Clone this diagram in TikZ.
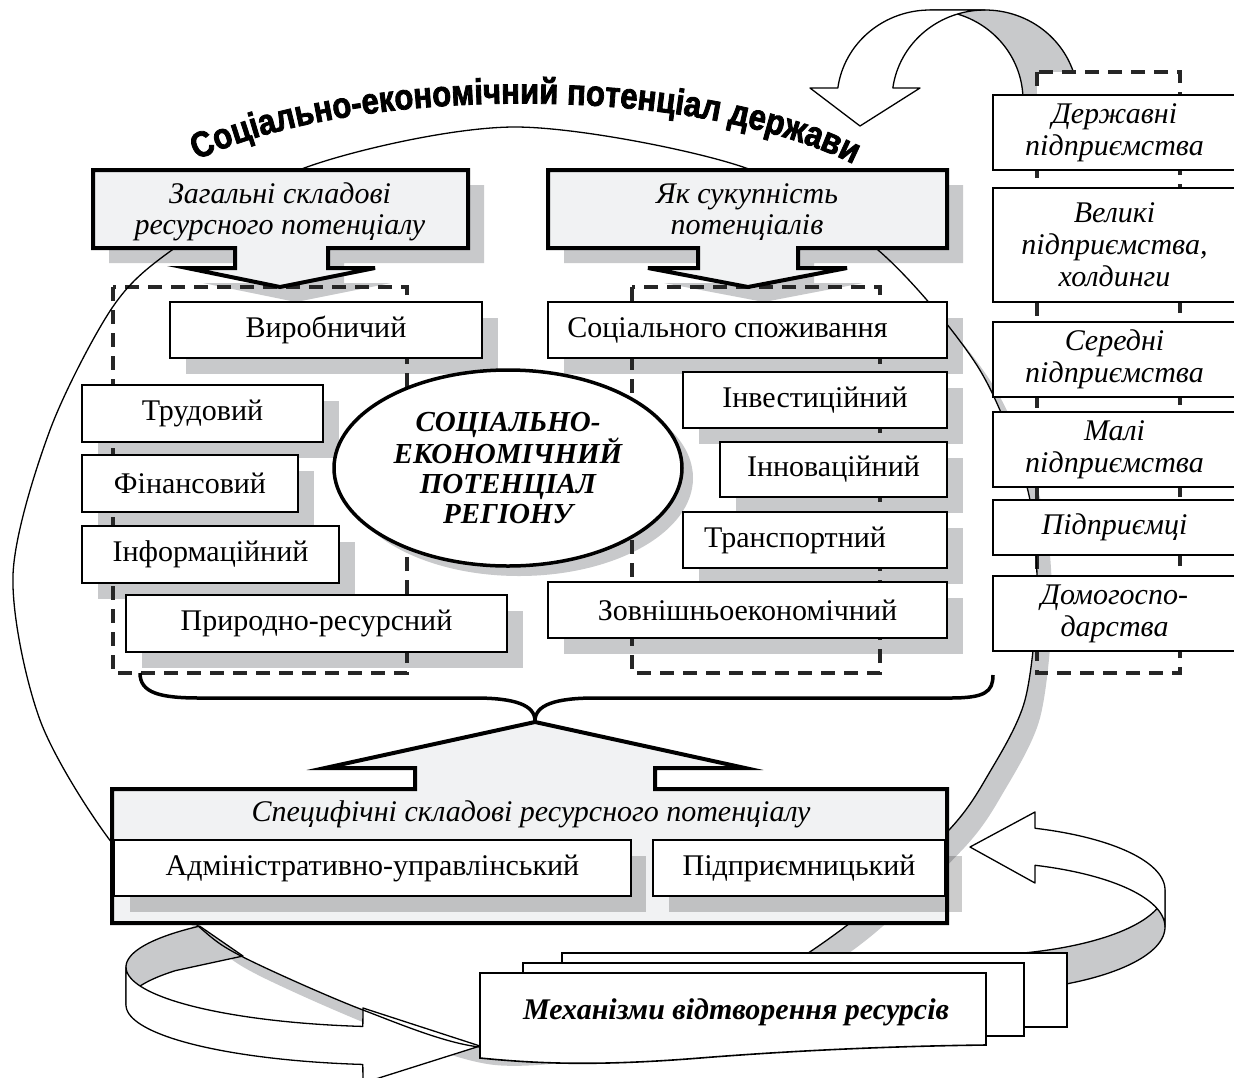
\documentclass[tikz,border=0pt]{standalone}
\usepackage{fontspec}
\setmainfont{Liberation Serif}
\newfontfamily\sansbold[FakeStretch=0.86,FakeBold=2.2]{Liberation Sans}
\usetikzlibrary{shapes.geometric,decorations.text}
\pgfdeclarelayer{l0}
\pgfdeclarelayer{l1}
\pgfdeclarelayer{l2}
\pgfdeclarelayer{l3}
\pgfsetlayers{l0,l1,l2,l3,main}
\definecolor{hdrfill}{RGB}{241,242,243}
\definecolor{shgray}{RGB}{200,201,203}
\newcommand\mkbox[7]{\node[#1, minimum width={#5-#3}, minimum height={#6-#4}] (#2) at ({(#3+#5)/2},{(#4+#6)/2}) {#7};}
\newcommand\mkshadow[1]{\fill[shgray] ([shift={(16,16)}]#1.north west) rectangle ([shift={(16,16)}]#1.south east);}
\begin{document}
\begin{tikzpicture}[x=1pt,y=-1pt,
  every node/.style={inner sep=0pt, outer sep=0pt},
  box/.style={draw=black, line width=1.7pt, fill=white, font=\fontsize{30}{32}\selectfont},
  rbox/.style={draw=black, line width=1.7pt, fill=white, font=\fontsize{30}{32}\selectfont\itshape, align=center},
  hdr/.style={draw=black, line width=4pt, fill=hdrfill, line join=miter},
  htext/.style={font=\fontsize{30}{31}\selectfont\itshape, align=center},
  dashbox/.style={draw=black!85, line width=3.5pt, dash pattern=on 14pt off 9pt},
  rib/.style={draw=black, line width=1.3pt, line join=round},
  stackbox/.style={draw=black, line width=1.6pt, fill=white},
]
\useasboundingbox (0,0) rectangle (1234,1077);

% ---------- title along arc
\path[decorate, decoration={text along path, text align=center,
  text={|\sansbold\bfseries\fontsize{36}{36}\selectfont|Соціально-економічний потенціал держави}}]
  (175,172) .. controls (320,84) and (710,76) .. (875,176);

% ---------- header boxes
\draw[hdr] (93,170) -- (468,170) -- (468,248) -- (328,248) -- (328,268) -- (375,268) -- (280,287)
  -- (187,268) -- (235,268) -- (235,248) -- (93,248) -- cycle;
\node[htext] (hz) at (280,212) {Загальні складові\\ресурсного потенціалу};
\draw[hdr] (548,170) -- (947,170) -- (947,248) -- (798,248) -- (798,268) -- (847,268) -- (748,287)
  -- (648,268) -- (698,268) -- (698,248) -- (548,248) -- cycle;
\node[htext] (hs) at (747,212) {Як сукупність\\потенціалів};

% ---------- left boxes
\mkbox{box}{vyr}{170}{302}{482}{358}{Виробничий}
\mkbox{box}{trud}{82}{385}{323}{442}{Трудовий}
\mkbox{box}{fin}{82}{455}{298}{512}{Фінансовий}
\mkbox{box}{inf}{82}{526}{339}{583}{Інформаційний}
\mkbox{box}{prir}{126}{595}{507}{652}{Природно-ресурсний}
% ---------- right boxes
\mkbox{box}{soc}{548}{302}{947}{358}{Соціального споживання\hspace*{40pt}}
\mkbox{box}{inv}{683}{372}{947}{428}{Інвестиційний}
\mkbox{box}{inn}{720}{442}{947}{497}{Інноваційний}
\mkbox{box}{tra}{683}{512}{947}{568}{Транспортний\hspace*{40pt}}
\mkbox{box}{zov}{548}{582}{947}{638}{Зовнішньоекономічний}

% ---------- central ellipse
\node[ellipse, draw=black, line width=3.5pt, fill=white, minimum width=348, minimum height=196,
  font=\fontsize{29}{30}\selectfont\bfseries\itshape, align=center] (reg) at (508,468)
  {СОЦІАЛЬНО-\\ЕКОНОМІЧНИЙ\\ПОТЕНЦІАЛ\\РЕГІОНУ};

% ---------- right column
\mkbox{rbox}{derz}{993}{95}{1236}{170}{Державні\\підприємства}
\mkbox{rbox}{vel}{993}{188}{1236}{302}{Великі\\підприємства,\\холдинги}
\mkbox{rbox}{ser}{993}{322}{1236}{397}{Середні\\підприємства}
\mkbox{rbox}{mal}{993}{412}{1236}{487}{Малі\\підприємства}
\mkbox{rbox}{pid}{993}{500}{1236}{555}{Підприємці}
\mkbox{rbox}{dom}{993}{576}{1236}{651}{Домогоспо-\\дарства}

% ---------- brace
\draw[line width=3.5pt] (140,673) .. controls (140,693) and (160,698) .. (200,698) -- (475,698)
  .. controls (515,698) and (535,705) .. (535,721) .. controls (535,705) and (555,698) .. (595,698)
  -- (950,698) .. controls (985,698) and (993,692) .. (993,675);

% ---------- specific box
\draw[hdr] (112,789) -- (415,789) -- (415,768) -- (325,768) -- (535,722) -- (745,768) -- (655,768)
  -- (655,789) -- (947,789) -- (947,923) -- (112,923) -- cycle;
\node[htext] (hsp) at (531,814) {Специфічні складові ресурсного потенціалу};
\fill[black, opacity=0.2] (130,856) rectangle (646,912);
\fill[black, opacity=0.2] (669,856) rectangle (962,912);
\mkbox{box}{adm}{114}{840}{631}{896}{Адміністративно-управлінський}
\mkbox{box}{pidpr}{653}{840}{945}{896}{Підприємницький}

% ---------- mechanisms stack
\mkbox{stackbox}{mech3}{562}{953}{1067}{1027}{}
\mkbox{stackbox}{mech2}{523}{963}{1024}{1036}{}
\filldraw[stackbox] (480,973) -- (986,973) -- (986,1045) .. controls (900,1046) and (800,1050) .. (700,1058)
  .. controls (600,1066) and (540,1064) .. (480,1058) -- cycle;
\node[font=\fontsize{30}{32}\selectfont\bfseries\itshape] (mech) at (736,1012) {Механізми відтворення ресурсів};

% ================= background layers
\begin{pgfonlayer}{l0}
  \fill[shgray, shift={(15,18)}] plot[smooth cycle] coordinates {(515,127) (743,167) (878,250) (978,367) (1027,487) (1037,590) (1025,700) (988,775) (949,830) (850,923) (740,993) (610,1035) (480,1047) (363,1010) (243,957) (197,925) (112,843) (40,720) (13,575) (50,430) (112,308) (172,250) (307,167)};
  \fill[white] plot[smooth cycle] coordinates {(515,127) (743,167) (878,250) (978,367) (1027,487) (1037,590) (1025,700) (988,775) (949,830) (850,923) (740,993) (610,1035) (480,1047) (363,1010) (243,957) (197,925) (112,843) (40,720) (13,575) (50,430) (112,308) (172,250) (307,167)};
\end{pgfonlayer}

\begin{pgfonlayer}{l1}
  % top-right curved arrow: two ellipses, centres (930,100) and (985,100), radii 93 x 90
  \filldraw[rib, fill=shgray] plot[domain=90:0, samples=40, variable=\t] ({930+93*cos(\t)},{100-90*sin(\t)})
    -- plot[domain=0:90, samples=40, variable=\t] ({985+93*cos(\t)},{100-90*sin(\t)}) -- cycle;
  \filldraw[rib, fill=white] (810,88) -- plot[domain=172.3:90, samples=40, variable=\t] ({930+93*cos(\t)},{100-90*sin(\t)})
    -- plot[domain=90:172.3, samples=40, variable=\t] ({985+93*cos(\t)},{100-90*sin(\t)})
    -- (920,88) -- (860,126) -- cycle;
  \fill[white] (1037,72) rectangle (1090,96);
  % bottom-left curved arrow: ellipses centres (400,967) and (400,1005), radii 274 x 60
  \filldraw[rib, fill=shgray] plot[domain=180:137, samples=30, variable=\t] ({400+274*cos(\t)},{967-60*sin(\t)})
    -- (243,956) -- plot[domain=145:180, samples=30, variable=\t] ({400+274*cos(\t)},{1005-60*sin(\t)}) -- cycle;
  \filldraw[rib, fill=white] (363,1008) -- (480,1046) -- (363,1083)
    -- plot[domain=262.2:180, samples=40, variable=\t] ({400+274*cos(\t)},{1005-60*sin(\t)})
    -- plot[domain=180:262.2, samples=40, variable=\t] ({400+274*cos(\t)},{967-60*sin(\t)}) -- cycle;
  % bottom-right curved arrow: ellipses centres (970,890) and (970,927), radii 195 x 65.5
  \filldraw[rib, fill=shgray] plot[domain=0:-82, samples=40, variable=\t] ({970+195*cos(\t)},{890-65.5*sin(\t)})
    -- plot[domain=-75:0, samples=40, variable=\t] ({970+195*cos(\t)},{927-65.5*sin(\t)}) -- cycle;
  \filldraw[rib, fill=white] (970,847) -- (1035,812)
    -- plot[domain=70.5:0, samples=40, variable=\t] ({970+195*cos(\t)},{890-65.5*sin(\t)})
    -- plot[domain=0:70.5, samples=40, variable=\t] ({970+195*cos(\t)},{927-65.5*sin(\t)})
    -- (1035,883) -- cycle;
\end{pgfonlayer}

\begin{pgfonlayer}{l2}
  \fill[shgray] (109,185) -- (484,185) -- (484,263) -- (344,263) -- (344,283) -- (391,283) -- (296,302)
    -- (203,283) -- (251,283) -- (251,263) -- (109,263) -- cycle;
  \fill[shgray] (564,185) -- (963,185) -- (963,263) -- (814,263) -- (814,283) -- (863,283) -- (764,302)
    -- (664,283) -- (714,283) -- (714,263) -- (564,263) -- cycle;
  \mkshadow{vyr}\mkshadow{trud}\mkshadow{fin}\mkshadow{inf}\mkshadow{prir}
  \mkshadow{soc}\mkshadow{inv}\mkshadow{inn}\mkshadow{tra}\mkshadow{zov}
  \fill[shgray] ([shift={(11,10)}]reg.center) ellipse [x radius=174, y radius=98];
\end{pgfonlayer}

\begin{pgfonlayer}{l3}
  \draw[dashbox] (113,287) rectangle (407,673);
  \draw[dashbox] (632,287) rectangle (880,673);
  \draw[dashbox] (1037,72) rectangle (1180,673);
  \draw[line width=1.3pt] plot[smooth cycle] coordinates {(515,127) (743,167) (878,250) (978,367) (1027,487) (1037,590) (1025,700) (988,775) (949,830) (850,923) (740,993) (610,1035) (480,1047) (363,1010) (243,957) (197,925) (112,843) (40,720) (13,575) (50,430) (112,308) (172,250) (307,167)};
\end{pgfonlayer}
\end{tikzpicture}
\end{document}
